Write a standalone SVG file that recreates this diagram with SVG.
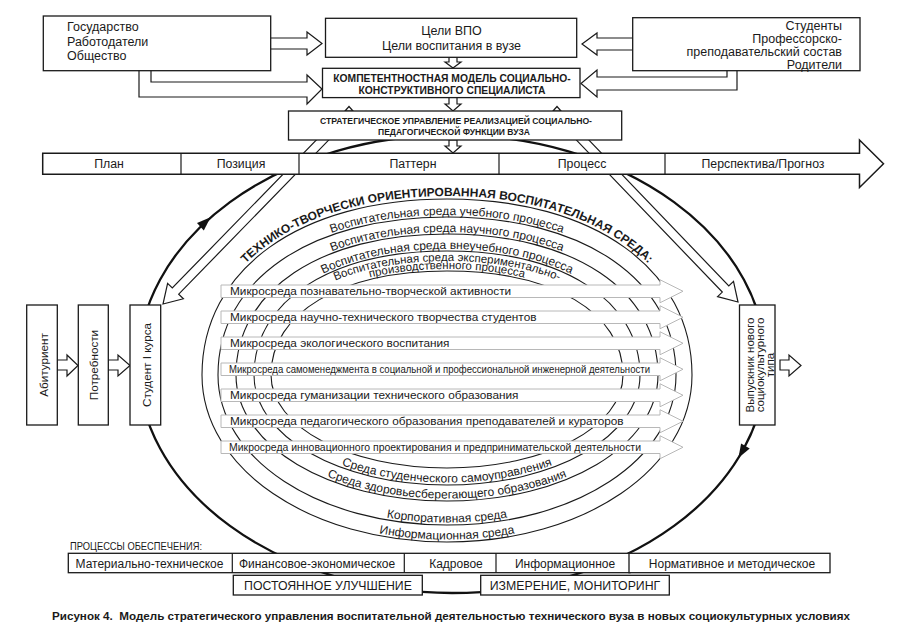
<svg xmlns="http://www.w3.org/2000/svg" width="908" height="642" viewBox="0 0 908 642">
<style>
.t{font-family:"Liberation Sans",Arial,sans-serif;fill:#1a1a1a}
.b{font-weight:bold}
.box{fill:#fff;stroke:#1a1a1a;stroke-width:1.3}
.ha{fill:#fff;stroke:#1a1a1a;stroke-width:1.2;stroke-linejoin:miter}
.env{fill:none;stroke:#1a1a1a;stroke-width:1.1}
.thick{fill:none;stroke:#111;stroke-width:2.3}
.head{fill:#111}
.ma{fill:#fff;stroke:#b8b8b8;stroke-width:1}
.mt{font-size:11.8px}
.arc{font-size:12px}
.arc2{font-size:11.5px}
.f12{font-size:12.5px}
.div{stroke:#1a1a1a;stroke-width:1.2}
</style>
<defs>
<path id="mArrow" d="M0,0 H439 V-5.25 L462,6.25 L439,17.75 V12.5 H0 Z"/>
<path id="pTitle" d="M199,375 C199,267.6 298.2,196 447,196 C595.8,196 695,267.6 695,375"/>
<path id="p1" d="M216,375 C216,279 308.4,215 447,215 C585.6,215 678,279 678,375"/>
<path id="p2" d="M234,375 C234,289.2 319.2,232 447,232 C574.8,232 660,289.2 660,375"/>
<path id="p3" d="M252,375 C252,299.4 330,249 447,249 C564,249 642,299.4 642,375"/>
<path id="p4a" d="M261,375 C261,306.6 335.4,261 447,261 C558.6,261 633,306.6 633,375"/>
<path id="p4b" d="M269,375 C269,311.4 340.2,269 447,269 C553.8,269 625,311.4 625,375"/>
<path id="pb1" d="M204.5,375 C204.5,467.12 311.2,539.5 447,539.5 C582.8,539.5 689.5,467.12 689.5,375"/>
<path id="pb2" d="M220.5,375 C220.5,457.6 320.16,522.5 447,522.5 C573.84,522.5 673.5,457.6 673.5,375"/>
<path id="pb3" d="M238.5,375 C238.5,444.16 330.24,498.5 447,498.5 C563.76,498.5 655.5,444.16 655.5,375"/>
<path id="pb4" d="M256.5,375 C256.5,435.2 340.32,482.5 447,482.5 C553.68,482.5 637.5,435.2 637.5,375"/>
</defs>
<rect width="908" height="642" fill="#fff"/>

<g id="connectors">
  <ellipse class="thick" cx="452" cy="364" rx="314" ry="229"/>
  <polygon class="head" points="210.6,217.3 203.8,230.4 197.0,223.0"/>
  <polygon class="head" points="738.4,458.1 749.7,448.4 741.1,443.4"/>
  <polygon class="ha" points="338.8,116.9 172.3,288.0 167.6,283.4 163,304 183.4,298.8 178.7,294.2 345.2,123.1"/>
  <polygon class="ha" points="566.65,116.89 728.8,285.9 733.5,281.4 738,302 717.6,296.6 722.3,292.1 560.15,123.11"/>
  <polygon class="ha" points="345,111 349,106.5 353,111"/>
  <polygon class="ha" points="553,111 557,106.5 561,111"/>
  <polygon class="ha" points="270,38 307,38 307,32 322,43.5 307,55 307,49 270,49"/>
  <polygon class="ha" points="139,70 151,70 151,82 307,82 307,75 322,89 307,104 307,97 139,97"/>
  <polygon class="ha" points="633,38 597,38 597,33 582,44 597,55 597,50 633,50"/>
  <polygon class="ha" points="727,70 737,70 737,90 597,90 597,97 581,83.5 597,70 597,77 727,77"/>
  <polygon class="ha" points="449,57 457,57 457,62 461,62 453,68 445,62 449,62"/>
  <polygon class="ha" points="449,97.5 457,97.5 457,104 461,104 453,111 445,104 449,104"/>
  <polygon class="ha" points="449,140 457,140 457,146 461,146 453,153 445,146 449,146"/>
  <polygon class="ha" points="57,360 67,360 67,355 78,365.5 67,376 67,370 57,370"/>
  <polygon class="ha" points="108,360 118,360 118,355 130,365.5 118,376 118,370 108,370"/>
  <polygon class="ha" points="780,360 789,360 789,355 801,365.5 789,376 789,370 780,370"/>
</g>

<g id="environment">
  <path class="env" d="M202,375 C202,269.4 300,199 447,199 C594,199 692,269.4 692,375 C692,468.52 584.2,542 447,542 C309.8,542 202,468.52 202,375Z"/>
  <path class="env" d="M218,375 C218,280.2 309.6,217 447,217 C584.4,217 676,280.2 676,375 C676,459 575.24,525 447,525 C318.76,525 218,459 218,375Z"/>
  <path class="env" d="M236,375 C236,290.4 320.4,234 447,234 C573.6,234 658,290.4 658,375 C658,445.56 565.16,501 447,501 C328.84,501 236,445.56 236,375Z"/>
  <path class="env" d="M254,375 C254,300.6 331.2,251 447,251 C562.8,251 640,300.6 640,375 C640,436.6 555.08,485 447,485 C338.92,485 254,436.6 254,375Z"/>
  <path class="env" d="M271,375 C271,312.6 341.4,271 447,271 C552.6,271 623,312.6 623,375 C623,427.08 545.56,468 447,468 C348.44,468 271,427.08 271,375Z"/>
  <text class="t b" font-size="12" text-anchor="middle"><textPath href="#pTitle" startOffset="50%">ТЕХНИКО-ТВОРЧЕСКИ ОРИЕНТИРОВАННАЯ ВОСПИТАТЕЛЬНАЯ СРЕДА:</textPath></text>
  <text class="t arc" text-anchor="middle"><textPath href="#p1" startOffset="50%">Воспитательная среда учебного процесса</textPath></text>
  <text class="t arc" text-anchor="middle"><textPath href="#p2" startOffset="50%">Воспитательная среда научного процесса</textPath></text>
  <text class="t arc" text-anchor="middle"><textPath href="#p3" startOffset="50%">Воспитательная среда внеучебного процесса</textPath></text>
  <text class="t arc2" text-anchor="middle"><textPath href="#p4a" startOffset="50%">Воспитательная среда экспериментально-</textPath></text>
  <text class="t arc2" text-anchor="middle"><textPath href="#p4b" startOffset="50%">производственного процесса</textPath></text>
  <text class="t arc" text-anchor="middle"><textPath href="#pb4" startOffset="50%">Среда студенческого самоуправления</textPath></text>
  <text class="t arc" text-anchor="middle"><textPath href="#pb3" startOffset="50%">Среда здоровьесберегающего образования</textPath></text>
  <text class="t arc" text-anchor="middle"><textPath href="#pb2" startOffset="50%">Корпоративная среда</textPath></text>
  <text class="t arc" text-anchor="middle"><textPath href="#pb1" startOffset="50%">Информационная среда</textPath></text>
</g>

<g id="microenvironments">
  <g id="m1"><use href="#mArrow" class="ma" x="221" y="285"/><text class="t mt" x="230" y="295">Микросреда познавательно-творческой активности</text></g>
  <g id="m2"><use href="#mArrow" class="ma" x="221" y="311"/><text class="t mt" x="230" y="321">Микросреда научно-технического творчества студентов</text></g>
  <g id="m3"><use href="#mArrow" class="ma" x="221" y="337"/><text class="t mt" x="230" y="347">Микросреда экологического воспитания</text></g>
  <g id="m4"><use href="#mArrow" class="ma" x="221" y="363"/><text class="t" font-size="11" x="229" y="373" textLength="421" lengthAdjust="spacingAndGlyphs">Микросреда самоменеджмента в социальной и профессиональной инженерной деятельности</text></g>
  <g id="m5"><use href="#mArrow" class="ma" x="221" y="389"/><text class="t mt" x="230" y="399">Микросреда гуманизации технического образования</text></g>
  <g id="m6"><use href="#mArrow" class="ma" x="221" y="415"/><text class="t mt" x="230" y="425">Микросреда педагогического образования преподавателей и кураторов</text></g>
  <g id="m7"><use href="#mArrow" class="ma" x="221" y="441"/><text class="t" font-size="11" x="229" y="451" textLength="412" lengthAdjust="spacingAndGlyphs">Микросреда инновационного проектирования и предпринимательской деятельности</text></g>
</g>

<g id="stakeholders-left">
  <rect class="box" x="43.3" y="16" width="227.4" height="54.7"/>
  <text class="t f12" x="67" y="31">Государство</text>
  <text class="t f12" x="67" y="45.5">Работодатели</text>
  <text class="t f12" x="67" y="60">Общество</text>
</g>
<g id="goals">
  <rect class="box" x="325.5" y="18.3" width="251.2" height="39"/>
  <text class="t f12" x="451.5" y="34.5" text-anchor="middle">Цели ВПО</text>
  <text class="t f12" x="451.5" y="49.5" text-anchor="middle">Цели воспитания в вузе</text>
</g>
<g id="stakeholders-right">
  <rect class="box" x="632.7" y="17.7" width="227.3" height="53"/>
  <text class="t f12" x="842" y="29.5" text-anchor="end">Студенты</text>
  <text class="t f12" x="842" y="42.8" text-anchor="end">Профессорско-</text>
  <text class="t f12" x="842" y="56.1" text-anchor="end">преподавательский состав</text>
  <text class="t f12" x="842" y="69.3" text-anchor="end">Родители</text>
</g>
<g id="competence-model">
  <rect class="box" x="322.5" y="68.3" width="257.5" height="29.3"/>
  <text class="t b" font-size="10.3" x="452" y="81.5" text-anchor="middle">КОМПЕТЕНТНОСТНАЯ МОДЕЛЬ СОЦИАЛЬНО-</text>
  <text class="t b" font-size="10.3" x="452" y="93.5" text-anchor="middle">КОНСТРУКТИВНОГО СПЕЦИАЛИСТА</text>
</g>
<g id="strategic-management">
  <rect class="box" x="288.5" y="111" width="333.2" height="29"/>
  <text class="t b" font-size="8.7" x="456" y="123.5" text-anchor="middle" textLength="272" lengthAdjust="spacingAndGlyphs">СТРАТЕГИЧЕСКОЕ УПРАВЛЕНИЕ РЕАЛИЗАЦИЕЙ СОЦИАЛЬНО-</text>
  <text class="t b" font-size="8.7" x="454" y="134.5" text-anchor="middle" textLength="152" lengthAdjust="spacingAndGlyphs">ПЕДАГОГИЧЕСКОЙ ФУНКЦИИ ВУЗА</text>
</g>
<g id="timeline">
  <polygon points="42.7,153.3 859.5,153.3 859.5,140 883.5,163.8 859.5,187.5 859.5,174.3 42.7,174.3" fill="#fff" stroke="#1a1a1a" stroke-width="1.5"/>
  <line class="div" x1="181" y1="153.3" x2="181" y2="174.3"/>
  <line class="div" x1="299" y1="153.3" x2="299" y2="174.3"/>
  <line class="div" x1="499" y1="153.3" x2="499" y2="174.3"/>
  <line class="div" x1="665" y1="153.3" x2="665" y2="174.3"/>
  <text class="t" font-size="12.3" x="109" y="168" text-anchor="middle">План</text>
  <text class="t" font-size="12.3" x="241" y="168" text-anchor="middle">Позиция</text>
  <text class="t" font-size="12.3" x="413" y="168" text-anchor="middle">Паттерн</text>
  <text class="t" font-size="12.3" x="582" y="168" text-anchor="middle">Процесс</text>
  <text class="t" font-size="12.3" x="763" y="168" text-anchor="middle">Перспектива/Прогноз</text>
</g>
<g id="applicant">
  <rect class="box" x="26.7" y="305" width="30.6" height="120"/>
  <text class="t" font-size="11.7" transform="translate(47.5,365) rotate(-90)" text-anchor="middle">Абитуриент</text>
</g>
<g id="needs">
  <rect class="box" x="78.3" y="305" width="30" height="120"/>
  <text class="t" font-size="11.7" transform="translate(97.5,365) rotate(-90)" text-anchor="middle">Потребности</text>
</g>
<g id="first-year-student">
  <rect class="box" x="130" y="305" width="30.7" height="120"/>
  <text class="t" font-size="11.7" transform="translate(150.5,365) rotate(-90)" text-anchor="middle">Студент I курса</text>
</g>
<g id="graduate">
  <rect class="box" x="739.5" y="305" width="35.5" height="120"/>
  <g transform="translate(757,365) rotate(-90)">
    <text class="t" font-size="11.5" x="0" y="-3.5" text-anchor="middle">Выпускник нового</text>
    <text class="t" font-size="11.5" x="0" y="7" text-anchor="middle">социокультурного</text>
    <text class="t" font-size="11.5" x="0" y="17.3" text-anchor="middle">типа</text>
  </g>
</g>
<g id="support-processes">
  <text class="t" font-size="11" x="70" y="550" textLength="132" lengthAdjust="spacingAndGlyphs">ПРОЦЕССЫ ОБЕСПЕЧЕНИЯ:</text>
  <rect class="box" x="68.3" y="553.3" width="561.7" height="19.4"/>
  <rect class="box" x="629" y="553.3" width="201" height="19.4"/>
  <line class="div" x1="232.3" y1="553.3" x2="232.3" y2="572.7"/>
  <line class="div" x1="404.3" y1="553.3" x2="404.3" y2="572.7"/>
  <line class="div" x1="496" y1="553.3" x2="496" y2="572.7"/>
  <text class="t" font-size="12" x="149.5" y="567.5" text-anchor="middle">Материально-техническое</text>
  <text class="t" font-size="12" x="317" y="567.5" text-anchor="middle">Финансовое-экономическое</text>
  <text class="t" font-size="12" x="456" y="567.5" text-anchor="middle">Кадровое</text>
  <text class="t" font-size="12" x="565" y="567.5" text-anchor="middle">Информационное</text>
  <text class="t" font-size="12" x="732" y="567.5" text-anchor="middle">Нормативное и методическое</text>
</g>
<g id="improvement">
  <rect class="box" x="233.3" y="575.3" width="189" height="19.7"/>
  <text class="t" font-size="12.3" x="328" y="590" text-anchor="middle">ПОСТОЯННОЕ УЛУЧШЕНИЕ</text>
</g>
<g id="monitoring">
  <rect class="box" x="480.7" y="575.3" width="188.6" height="19.7"/>
  <text class="t" font-size="12.3" x="575" y="590" text-anchor="middle">ИЗМЕРЕНИЕ, МОНИТОРИНГ</text>
</g>
<text class="t b" font-size="11.5" x="52" y="620" textLength="798" lengthAdjust="spacingAndGlyphs">Рисунок 4.&#160; Модель стратегического управления воспитательной деятельностью технического вуза в новых социокультурных условиях</text>
</svg>
